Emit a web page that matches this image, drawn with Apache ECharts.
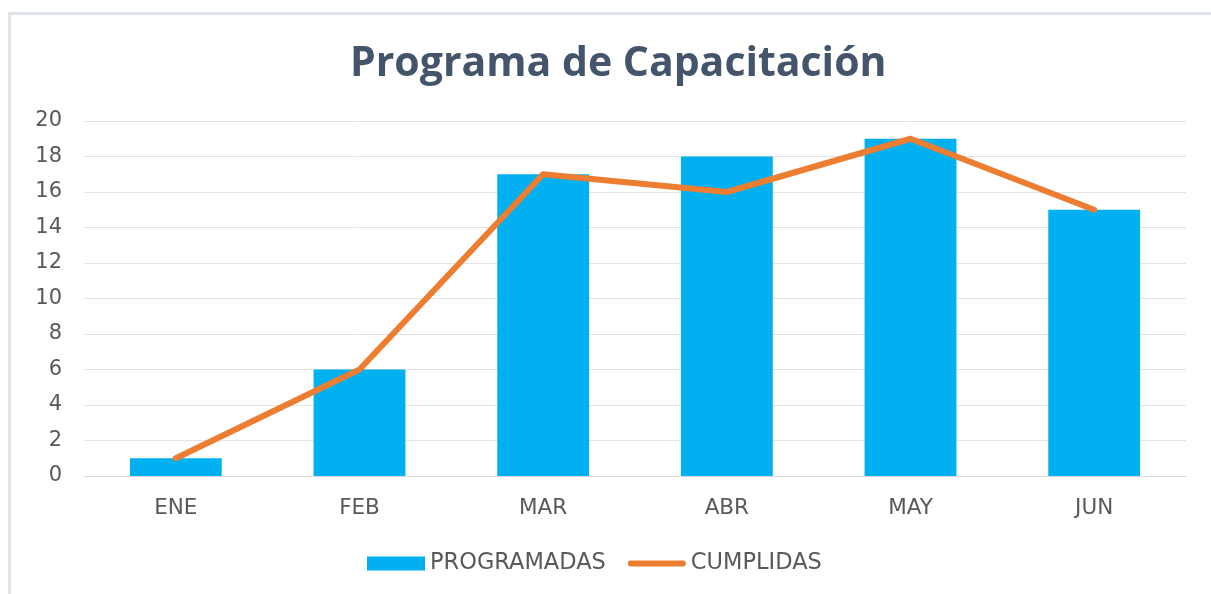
<!DOCTYPE html>
<html>
<head>
<meta charset="utf-8">
<script src="https://cdn.jsdelivr.net/npm/echarts@6/dist/echarts.min.js"></script>
<style>
  html, body { margin: 0; padding: 0; background: #fff; overflow: hidden; }
  #frame { position: absolute; left: 8px; top: 12px; width: 1400px; height: 800px; border: 3px solid #dfe4ec; box-sizing: border-box; }
  #chart { position: absolute; left: 0; top: 0; width: 1211px; height: 594px; }
</style>
</head>
<body>
<div id="frame"></div>
<div id="chart"></div>
<script>
const months = ["ENE", "FEB", "MAR", "ABR", "MAY", "JUN"];
const programadas = [1, 6, 17, 18, 19, 15];
const cumplidas = [1, 6, 17, 16, 19, 15];

const textColor = "#595959";
const font = "'DejaVu Sans', sans-serif";
const lineIcon = "path://M3,0 H57 A3,3 0 0 1 57,6 H3 A3,3 0 0 1 3,0 Z";

const myChart = echarts.init(document.getElementById("chart"));
const option = {
  animation: false,
  textStyle: { fontFamily: font },
  title: {
    text: "Programa de Capacitación",
    left: 345,
    top: 39,
    textStyle: { fontSize: 41, fontWeight: "bold", color: "#44546a", fontFamily: "'Open Sans', sans-serif" }
  },
  legend: {
    bottom: 14,
    left: 362,
    itemGap: 22,
    itemWidth: 58,
    itemHeight: 14,
    textStyle: { fontSize: 22.5, color: textColor, fontFamily: font },
    data: [
      { name: "PROGRAMADAS", icon: "rect" },
      { name: "CUMPLIDAS", icon: lineIcon, itemStyle: { color: "#ed7d31" } }
    ]
  },
  grid: { left: 84, right: 25, top: 121, bottom: 118 },
  xAxis: {
    type: "category",
    data: months,
    axisTick: { show: false },
    axisLine: { lineStyle: { color: "#d9d9d9" } },
    axisLabel: { fontSize: 21.5, color: textColor, margin: 21 }
  },
  yAxis: {
    type: "value",
    min: 0,
    max: 20,
    interval: 2,
    axisLabel: { fontSize: 21, color: textColor, margin: 22 },
    splitLine: { lineStyle: { color: "#e3e3e3" } }
  },
  series: [
    {
      name: "PROGRAMADAS",
      type: "bar",
      data: programadas,
      barWidth: "50%",
      itemStyle: { color: "#00b0f0" }
    },
    {
      name: "CUMPLIDAS",
      type: "line",
      data: cumplidas,
      symbol: "none",
      lineStyle: { width: 6, color: "#ed7d31", cap: "round", join: "round" },
      itemStyle: { color: "#ed7d31" }
    }
  ]
};
myChart.setOption(option);
</script>
</body>
</html>
